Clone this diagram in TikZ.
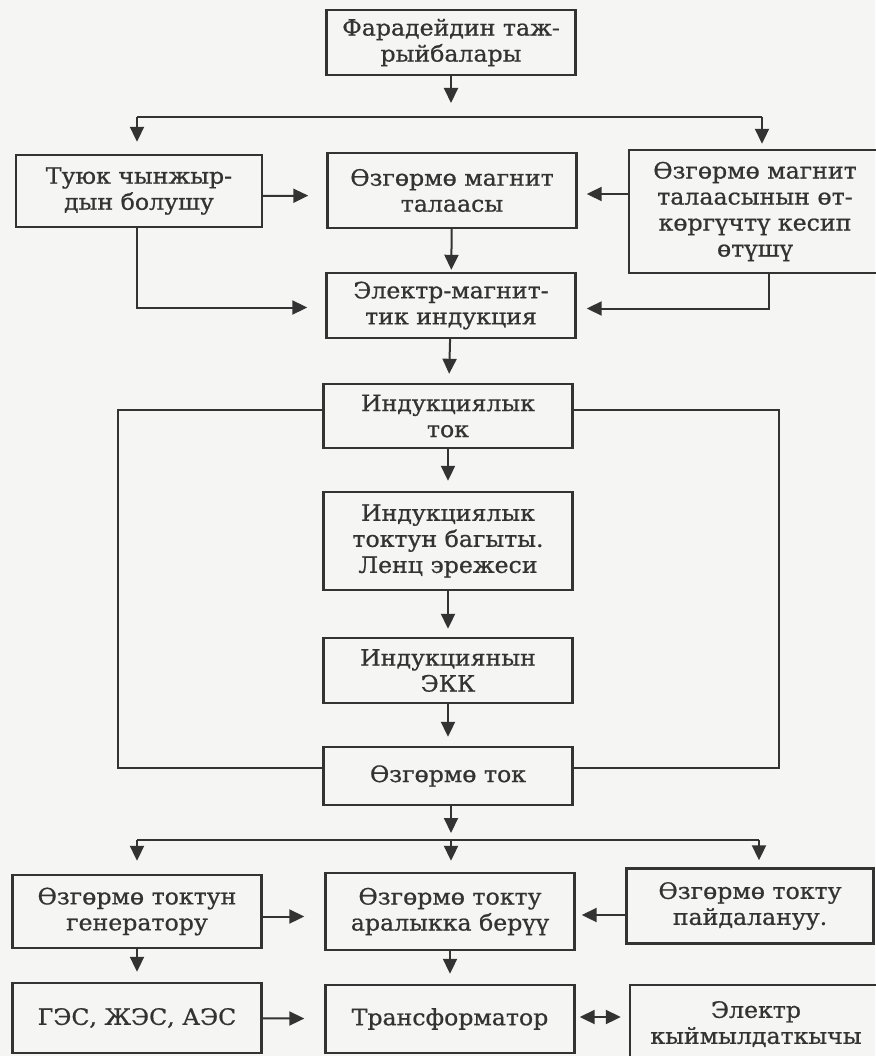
\documentclass[tikz,border=0pt]{standalone}
\usepackage{fontspec}
\setmainfont[FakeStretch=1.05,FakeBold=0.8]{DejaVu Serif}
\usepackage{xcolor}
\usetikzlibrary{arrows.meta,positioning}
\definecolor{ink}{HTML}{333333}
\definecolor{paper}{HTML}{F5F5F3}

\begin{document}
\begin{tikzpicture}[
    x=1pt,y=-1pt,
    font=\fontsize{22.5}{26}\selectfont,
    box/.style={rectangle,draw=ink,line width=2.4pt,align=center,inner sep=0pt,text=ink},
    col/.style={box,minimum width=249pt},
    arrow/.style={-{Triangle[length=15pt,width=14pt]},line width=2pt,draw=ink},
    bar/.style={line width=2pt,draw=ink},
    loopline/.style={line width=1.8pt,draw=ink}
]
    \fill[paper] (0,0) rectangle (875,1056);
    \useasboundingbox (0,0) rectangle (875,1056);

    % top part
    \node[col,minimum height=65pt] (faraday) at (451,42.5) {Фарадейдин таж-\\рыйбалары};
    \node[box,minimum width=246pt,minimum height=72pt] (tuyuk) at (139,191) {Туюк чынжыр-\\дын болушу};
    \node[col,minimum height=75pt] (ozgmag) at (452,190.5) {Өзгөрмө магнит\\талаасы};
    \node[box,minimum width=252pt,minimum height=123pt] (kesip) at (755,211.5) {Өзгөрмө магнит\\талаасынын өт-\\көргүчтү кесип\\өтүшү};
    \node[col,minimum height=65pt] (electro) at (451,305.5) {Электр-магнит-\\тик индукция};

    % middle column
    \node[col,minimum height=64pt] (indtok) at (448,416) {Индукциялык\\ток};
    \node[col,minimum height=98pt] (lenz) at (448,541) {Индукциялык\\токтун багыты.\\Ленц эрежеси};
    \node[col,minimum height=65pt] (ekk) at (448,670.5) {Индукциянын\\ЭКК};
    \node[col,minimum height=58pt] (ozgtok) at (448,776) {Өзгөрмө ток};

    % bottom part
    \node[col,minimum height=73pt] (gen) at (137,911.5) {Өзгөрмө токтун\\генератору};
    \node[col,minimum height=77pt] (aral) at (450,911.5) {Өзгөрмө токту\\аралыкка берүү};
    \node[box,minimum width=247pt,minimum height=75pt] (paid) at (750,906) {Өзгөрмө токту\\пайдалануу.};
    \node[col,minimum height=70pt] (ges) at (137,1018) {ГЭС, ЖЭС, АЭС};
    \node[col,minimum height=68pt] (trans) at (450,1019) {Трансформатор};
    \node[box,minimum width=252pt,minimum height=78pt] (elmot) at (756,1024) {Электр\\кыймылдаткычы};

    \coordinate (barTL) at (137,117);
    \coordinate (barTR) at (762,117);
    \coordinate (barBL) at (137,840);
    \coordinate (barBM) at (451,840);
    \coordinate (barBR) at (759,840);

    \draw[arrow,shorten >=14pt] (faraday) -- (faraday.south |- barTL);
    \draw[bar] (barTL) -- (barTR);
    \draw[arrow,shorten >=12pt] (barTL) -- (barTL |- tuyuk.north);
    \draw[arrow,shorten >=5pt] (barTR) -- (barTR |- kesip.north);

    \draw[arrow,shorten >=18pt] ([yshift=-5pt]tuyuk.east) -- ([yshift=-5pt]ozgmag.west);
    \draw[arrow,shorten >=9pt] (kesip.west |- 0,194) -- (ozgmag.east |- 0,194);
    \draw[arrow,shorten >=2pt] (ozgmag) -- (electro);
    \draw[arrow,shorten >=18pt] ([xshift=-2pt]tuyuk.south) |- ([yshift=-2pt]electro.west);
    \draw[arrow,shorten >=10pt] ([xshift=14pt]kesip.south) |- ([yshift=-3pt]electro.east);
    \draw[arrow,shorten >=9pt] (electro) -- (indtok);

    % loop round the column
    \draw[loopline] ([yshift=6pt]indtok.west) -- ++(-204,0) |- ([yshift=8pt]ozgtok.west);
    \draw[loopline] ([yshift=6pt]indtok.east) -- ++(205,0) |- ([yshift=8pt]ozgtok.east);

    \draw[arrow,shorten >=10pt] (indtok) -- (lenz);
    \draw[arrow,shorten >=8pt] (lenz) -- (ekk);
    \draw[arrow,shorten >=9pt] (ekk) -- (ozgtok);

    \draw[arrow,shorten >=7pt] (ozgtok.south -| barBM) -- (barBM);
    \draw[bar] (barBL) -- (barBR);
    \draw[arrow,shorten >=13pt] (barBL) -- (barBL |- gen.north);
    \draw[arrow,shorten >=11pt] (barBM) -- (barBM |- aral.north);
    \draw[arrow,shorten >=7pt] (barBR) -- (barBR |- paid.north);

    \draw[arrow,shorten >=20pt] ([yshift=-5pt]gen.east) -- ([yshift=-5pt]aral.west);
    \draw[arrow,shorten >=6pt] (paid.west |- 0,915) -- (aral.east |- 0,915);
    \draw[arrow,shorten >=10pt] (gen) -- (ges);
    \draw[arrow,shorten >=10pt] (aral) -- (trans);
    \draw[arrow,shorten >=20pt] (ges) -- (trans);
    \draw[{Triangle[length=15pt,width=14pt]}-{Triangle[length=15pt,width=14pt]},line width=2pt,draw=ink,shorten <=4pt,shorten >=8pt] (trans.east |- 0,1017) -- (elmot.west |- 0,1017);
\end{tikzpicture}
\end{document}
